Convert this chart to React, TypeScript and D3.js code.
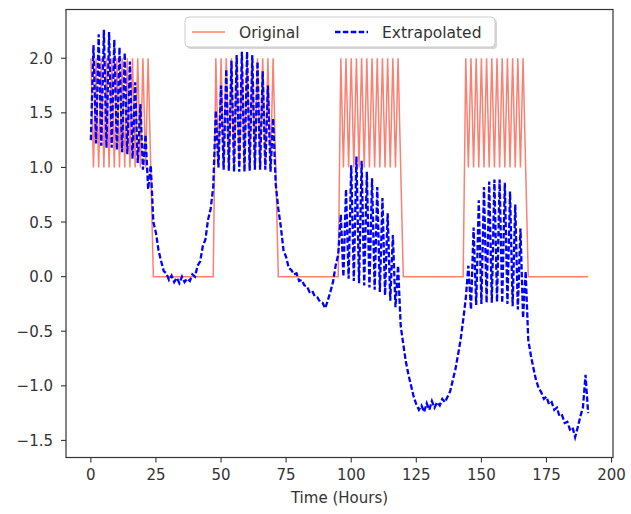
import React from "react";
import * as d3 from "d3";

// Original signal: hourly values (hours 0..191)
const originalValues: number[] = [
  2, 1, 2, 1, 2, 1, 2, 1, 2, 1, 2, 1, 2, 1, 2, 1, 2, 1, 2, 1, 2, 1, 2, 1,
  0, 0, 0, 0, 0, 0, 0, 0, 0, 0, 0, 0, 0, 0, 0, 0, 0, 0, 0, 0, 0, 0, 0, 0,
  2, 1, 2, 1, 2, 1, 2, 1, 2, 1, 2, 1, 2, 1, 2, 1, 2, 1, 2, 1, 2, 1, 2, 1,
  0, 0, 0, 0, 0, 0, 0, 0, 0, 0, 0, 0, 0, 0, 0, 0, 0, 0, 0, 0, 0, 0, 0, 0,
  2, 1, 2, 1, 2, 1, 2, 1, 2, 1, 2, 1, 2, 1, 2, 1, 2, 1, 2, 1, 2, 1, 2, 1,
  0, 0, 0, 0, 0, 0, 0, 0, 0, 0, 0, 0, 0, 0, 0, 0, 0, 0, 0, 0, 0, 0, 0, 0,
  2, 1, 2, 1, 2, 1, 2, 1, 2, 1, 2, 1, 2, 1, 2, 1, 2, 1, 2, 1, 2, 1, 2, 1,
  0, 0, 0, 0, 0, 0, 0, 0, 0, 0, 0, 0, 0, 0, 0, 0, 0, 0, 0, 0, 0, 0, 0, 0,
];

// Extrapolated signal: hourly values (hours 0..191)
const extrapolatedValues: number[] = [
  1.25, 2.12, 1.22, 2.22, 1.2, 2.26, 1.18, 2.24, 1.18, 2.17, 1.16, 2.1,
  1.14, 2.05, 1.12, 1.97, 1.08, 1.78, 1.04, 1.58, 0.98, 1.3, 0.8, 1.02,
  0.5, 0.4, 0.24, 0.14, 0.05, 0.03, -0.03, 0.01, -0.05, -0.01, -0.06, 0.0,
  -0.05, -0.02, -0.04, 0.02, 0.0, 0.1, 0.14, 0.28, 0.34, 0.52, 0.62, 0.82,
  1.52, 1.0, 1.75, 0.98, 1.9, 0.97, 1.98, 0.96, 2.03, 0.96, 2.06, 0.96,
  2.06, 0.97, 2.03, 0.98, 1.97, 0.98, 1.88, 0.98, 1.75, 0.96, 1.45, 0.85,
  0.62, 0.45, 0.24, 0.18, 0.08, 0.06, 0.02, 0.03, -0.04, -0.03, -0.08, -0.09,
  -0.14, -0.13, -0.18, -0.19, -0.23, -0.24, -0.29, -0.22, -0.14, -0.05, 0.1, 0.2,
  0.57, 0.0, 0.8, -0.02, 1.02, -0.04, 1.1, -0.06, 1.06, -0.08, 0.96, -0.1,
  0.9, -0.12, 0.82, -0.14, 0.72, -0.17, 0.58, -0.22, 0.38, -0.28, 0.1, -0.45,
  -0.62, -0.78, -0.9, -1.0, -1.1, -1.17, -1.22, -1.18, -1.24, -1.16, -1.22, -1.14,
  -1.2, -1.15, -1.18, -1.12, -1.15, -1.1, -1.05, -0.95, -0.85, -0.72, -0.58, -0.4,
  -0.2, 0.1, -0.3, 0.45, -0.26, 0.7, -0.25, 0.82, -0.24, 0.87, -0.24, 0.89,
  -0.23, 0.89, -0.24, 0.86, -0.25, 0.78, -0.27, 0.66, -0.3, 0.44, -0.38, 0.05,
  -0.58, -0.72, -0.84, -0.95, -1.02, -1.06, -1.12, -1.1, -1.17, -1.15, -1.22, -1.2,
  -1.28, -1.27, -1.34, -1.33, -1.4, -1.38, -1.47, -1.38, -1.28, -1.2, -0.9, -1.25,
];

const xTicks: number[] = [0, 25, 50, 75, 100, 125, 150, 175, 200];
const yTicks: number[] = [-1.5, -1.0, -0.5, 0.0, 0.5, 1.0, 1.5, 2.0];
const seriesNames: string[] = ["Original", "Extrapolated"];
const xLabel = "Time (Hours)";

const W = 631;
const H = 514;
const left = 66;
const right = 613;
const top = 9.5;
const bottom = 457.5;
const FONT = "'DejaVu Sans', sans-serif";

export default function App() {
  const hours = originalValues.map((_, i) => i);
  const xExt = d3.extent(hours) as [number, number];
  const xPad = (xExt[1] - xExt[0]) * 0.05;
  const allY = [...originalValues, ...extrapolatedValues];
  const yExt = d3.extent(allY) as [number, number];
  const yPad = (yExt[1] - yExt[0]) * 0.05;

  const x = d3.scaleLinear().domain([xExt[0] - xPad, xExt[1] + xPad]).range([left, right]);
  const y = d3.scaleLinear().domain([yExt[0] - yPad, yExt[1] + yPad]).range([bottom, top]);

  const line = d3
    .line<number>()
    .x((_, i) => x(i))
    .y((d) => y(d));

  const fmt = (v: number) => d3.format(".1f")(v).replace("-", "\u2212");

  return (
    <div style={{ position: "absolute", left: 0, top: 0 }}>
      <svg width={W} height={H} style={{ display: "block", background: "#fff" }}>
        <defs>
          <clipPath id="plotclip">
            <rect x={left} y={top} width={right - left} height={bottom - top} />
          </clipPath>
        </defs>
        <g clipPath="url(#plotclip)">
          <path d={line(originalValues) || ""} fill="none" stroke="#fa8072" strokeWidth={1.5} />
          <path
            d={line(extrapolatedValues) || ""}
            fill="none"
            stroke="#0000ff"
            strokeWidth={2.3}
            strokeDasharray="5.5,2.4"
          />
        </g>
        {/* frame */}
        <rect x={left} y={top} width={right - left} height={bottom - top} fill="none" stroke="#333" strokeWidth={1.2} />
        {/* x ticks */}
        {xTicks.map((t) => (
          <g key={"x" + t}>
            <line x1={x(t)} x2={x(t)} y1={bottom} y2={bottom + 5} stroke="#333" strokeWidth={1.1} />
            <text x={x(t)} y={bottom + 22} textAnchor="middle" fontFamily={FONT} fontSize={15} fill="#333">
              {t}
            </text>
          </g>
        ))}
        {/* y ticks */}
        {yTicks.map((t) => (
          <g key={"y" + t}>
            <line x1={left - 5} x2={left} y1={y(t)} y2={y(t)} stroke="#333" strokeWidth={1.1} />
            <text x={left - 13} y={y(t) + 5.5} textAnchor="end" fontFamily={FONT} fontSize={15} fill="#333">
              {fmt(t)}
            </text>
          </g>
        ))}
        <text x={(left + right) / 2} y={503} textAnchor="middle" fontFamily={FONT} fontSize={15} fill="#333">
          {xLabel}
        </text>
        {/* legend */}
        <g>
          <rect x={187} y={19} width={310} height={30} rx={4} fill="#999" opacity={0.4} />
          <rect x={185} y={17} width={310} height={30} rx={4} fill="#fff" stroke="#ccc" strokeWidth={1} />
          <line x1={192} x2={225} y1={32} y2={32} stroke="#fa8072" strokeWidth={1.5} />
          <text x={239} y={37.5} fontFamily={FONT} fontSize={15.5} fill="#333">
            {seriesNames[0]}
          </text>
          <line x1={335} x2={368} y1={32} y2={32} stroke="#0000ff" strokeWidth={2.3} strokeDasharray="5.5,2.4" />
          <text x={382} y={37.5} fontFamily={FONT} fontSize={15.5} fill="#333">
            {seriesNames[1]}
          </text>
        </g>
      </svg>
    </div>
  );
}
